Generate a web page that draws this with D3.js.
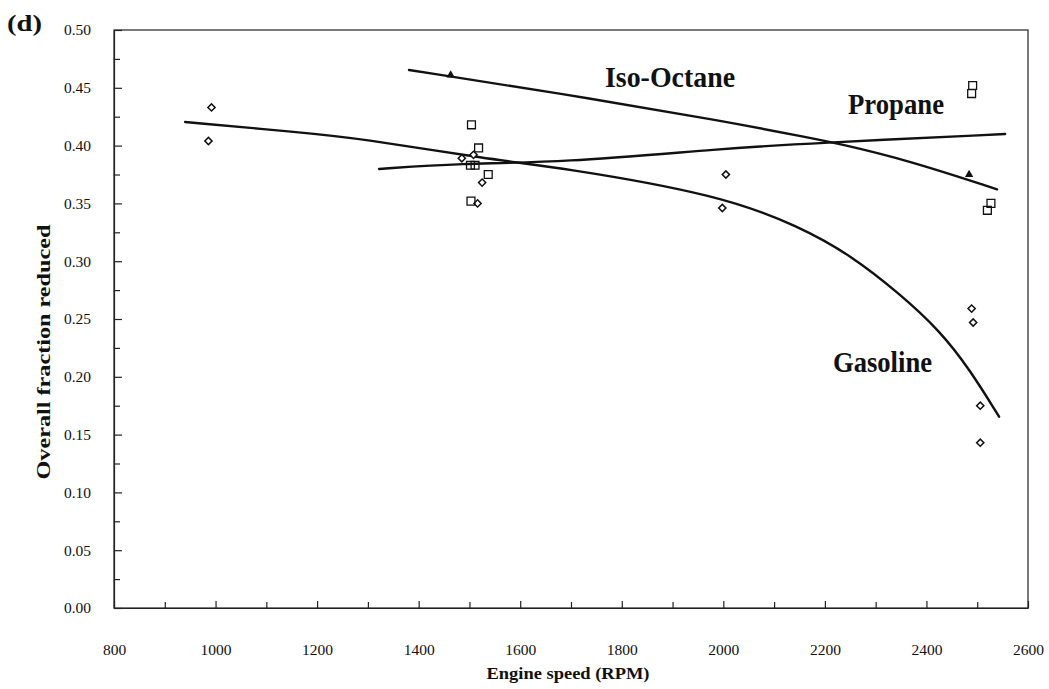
<!DOCTYPE html>
<html>
<head>
<meta charset="utf-8">
<script src="https://cdn.jsdelivr.net/npm/d3@7/dist/d3.min.js"></script>
<style>
  html, body { margin: 0; padding: 0; background: #fff; }
  svg { display: block; }
  text { font-family: "Liberation Serif", "Times New Roman", serif; fill: #111; }
</style>
</head>
<body>
<svg id="chart" width="1049" height="689"></svg>
<script>
// Measured points: engine speed (RPM) vs overall fraction reduced
const gasolineRpm = [986, 992, 1485, 1508, 1525, 1516, 2005, 1998, 2489, 2492, 2506, 2506];
const gasolineVal = [0.404, 0.433, 0.389, 0.392, 0.368, 0.350, 0.375, 0.346, 0.259, 0.247, 0.175, 0.143];

const propaneRpm = [1504, 1518, 1502, 1511, 1537, 1503, 2491, 2489, 2527, 2520];
const propaneVal = [0.418, 0.398, 0.383, 0.383, 0.375, 0.352, 0.452, 0.445, 0.350, 0.344];

const isoOctaneRpm = [1463, 2484];
const isoOctaneVal = [0.461, 0.375];

// Fitted trend curves
const gasolineFitRpm = [940, 1166, 1285, 1540, 1678, 1993, 2151, 2250, 2348, 2427, 2486, 2543];
const gasolineFitVal = [0.4204, 0.4115, 0.4063, 0.3880, 0.3812, 0.3573, 0.3298, 0.3054, 0.2716, 0.2396, 0.2059, 0.1655];

const propaneFitRpm = [1322, 1481, 1678, 2007, 2171, 2555];
const propaneFitVal = [0.3798, 0.3847, 0.3852, 0.3977, 0.4020, 0.4100];

const isoOctaneFitRpm = [1381, 1678, 2007, 2171, 2224, 2362, 2539];
const isoOctaneFitVal = [0.4654, 0.4452, 0.4207, 0.4066, 0.4020, 0.3875, 0.3622];

// Axis ticks
const xMajorTicks = [800, 1000, 1200, 1400, 1600, 1800, 2000, 2200, 2400, 2600];
const xMinorTicks = [900, 1100, 1300, 1500, 1700, 1900, 2100, 2300, 2500];
const yMajorTicks = [0.00, 0.05, 0.10, 0.15, 0.20, 0.25, 0.30, 0.35, 0.40, 0.45, 0.50];
const yMinorTicks = [0.025, 0.075, 0.125, 0.175, 0.225, 0.275, 0.325, 0.375, 0.425, 0.475];

const svg = d3.select("#chart");
const plotLeft = 114, plotRight = 1028, plotTop = 30, plotBottom = 608;

const x = d3.scaleLinear().domain([800, 2600]).range([plotLeft, plotRight]);
const y = d3.scaleLinear().domain([0, 0.5]).range([plotBottom, plotTop]);

const zip = (a, b) => a.map((v, i) => [v, b[i]]);

// Frame
svg.append("rect")
  .attr("x", plotLeft).attr("y", plotTop)
  .attr("width", plotRight - plotLeft).attr("height", plotBottom - plotTop)
  .attr("fill", "none").attr("stroke", "#222").attr("stroke-width", 1.2);

// Y axis
svg.append("g").attr("transform", `translate(${plotLeft},0)`)
  .call(d3.axisLeft(y).tickValues(yMajorTicks).tickFormat(d3.format(".2f"))
    .tickSizeInner(-8).tickSizeOuter(0).tickPadding(23));
svg.append("g").attr("transform", `translate(${plotLeft},0)`)
  .call(d3.axisLeft(y).tickValues(yMinorTicks).tickFormat("")
    .tickSizeInner(-6).tickSizeOuter(0))
  .select(".domain").remove();

// X axis
svg.append("g").attr("transform", `translate(0,${plotBottom})`)
  .call(d3.axisBottom(x).tickValues(xMajorTicks).tickFormat(d3.format("d"))
    .tickSizeInner(-7).tickSizeOuter(0).tickPadding(36));
svg.append("g").attr("transform", `translate(0,${plotBottom})`)
  .call(d3.axisBottom(x).tickValues(xMinorTicks).tickFormat("")
    .tickSizeInner(-6).tickSizeOuter(0))
  .select(".domain").remove();

svg.selectAll(".domain").attr("stroke", "#222").attr("stroke-width", 1.2);
svg.selectAll(".tick line").attr("stroke", "#222").attr("stroke-width", 1.2);
svg.selectAll(".tick text")
  .style("font-family", "'Liberation Serif', 'Times New Roman', serif")
  .style("font-size", "15.5px").attr("fill", "#111");

// Trend curves
const line = d3.line().x(d => x(d[0])).y(d => y(d[1])).curve(d3.curveBasis);
[[gasolineFitRpm, gasolineFitVal], [propaneFitRpm, propaneFitVal], [isoOctaneFitRpm, isoOctaneFitVal]]
  .forEach(([r, v]) => {
    svg.append("path").datum(zip(r, v))
      .attr("d", line)
      .attr("fill", "none").attr("stroke", "#111")
      .attr("stroke-width", 2.4).attr("stroke-linejoin", "round").attr("stroke-linecap", "round");
  });

// Markers
const diamond = d3.symbol(d3.symbolSquare, 26);
svg.append("g").selectAll("path").data(zip(gasolineRpm, gasolineVal)).join("path")
  .attr("d", diamond)
  .attr("transform", d => `translate(${x(d[0])},${y(d[1])}) rotate(45)`)
  .attr("fill", "#fff").attr("stroke", "#111").attr("stroke-width", 1.5);

const square = d3.symbol(d3.symbolSquare, 62);
svg.append("g").selectAll("path").data(zip(propaneRpm, propaneVal)).join("path")
  .attr("d", square)
  .attr("transform", d => `translate(${x(d[0])},${y(d[1])})`)
  .attr("fill", "none").attr("stroke", "#111").attr("stroke-width", 1.3);

const tri = d3.symbol(d3.symbolTriangle, 30);
svg.append("g").selectAll("path").data(zip(isoOctaneRpm, isoOctaneVal)).join("path")
  .attr("d", tri)
  .attr("transform", d => `translate(${x(d[0])},${y(d[1])})`)
  .attr("fill", "#111");

// Series labels
const label = (txt, px, py, size, len) => svg.append("text")
  .attr("x", px).attr("y", py)
  .attr("font-size", size).attr("font-weight", "bold")
  .attr("textLength", len).attr("lengthAdjust", "spacingAndGlyphs")
  .text(txt);

label("Iso-Octane", 605, 87, 30, 130);
label("Propane", 848, 114, 29, 96);
label("Gasoline", 833, 372, 30, 99);

// Panel tag
label("(d)", 7, 31, 24, 35);

// Axis titles
svg.append("text")
  .attr("x", 568).attr("y", 679)
  .attr("text-anchor", "middle")
  .attr("font-size", 17.5).attr("font-weight", "bold")
  .attr("textLength", 163).attr("lengthAdjust", "spacingAndGlyphs")
  .text("Engine speed (RPM)");

svg.append("text")
  .attr("transform", "translate(50,352) rotate(-90)")
  .attr("text-anchor", "middle")
  .attr("font-size", 19).attr("font-weight", "bold")
  .attr("textLength", 255).attr("lengthAdjust", "spacingAndGlyphs")
  .text("Overall fraction reduced");
</script>
</body>
</html>
